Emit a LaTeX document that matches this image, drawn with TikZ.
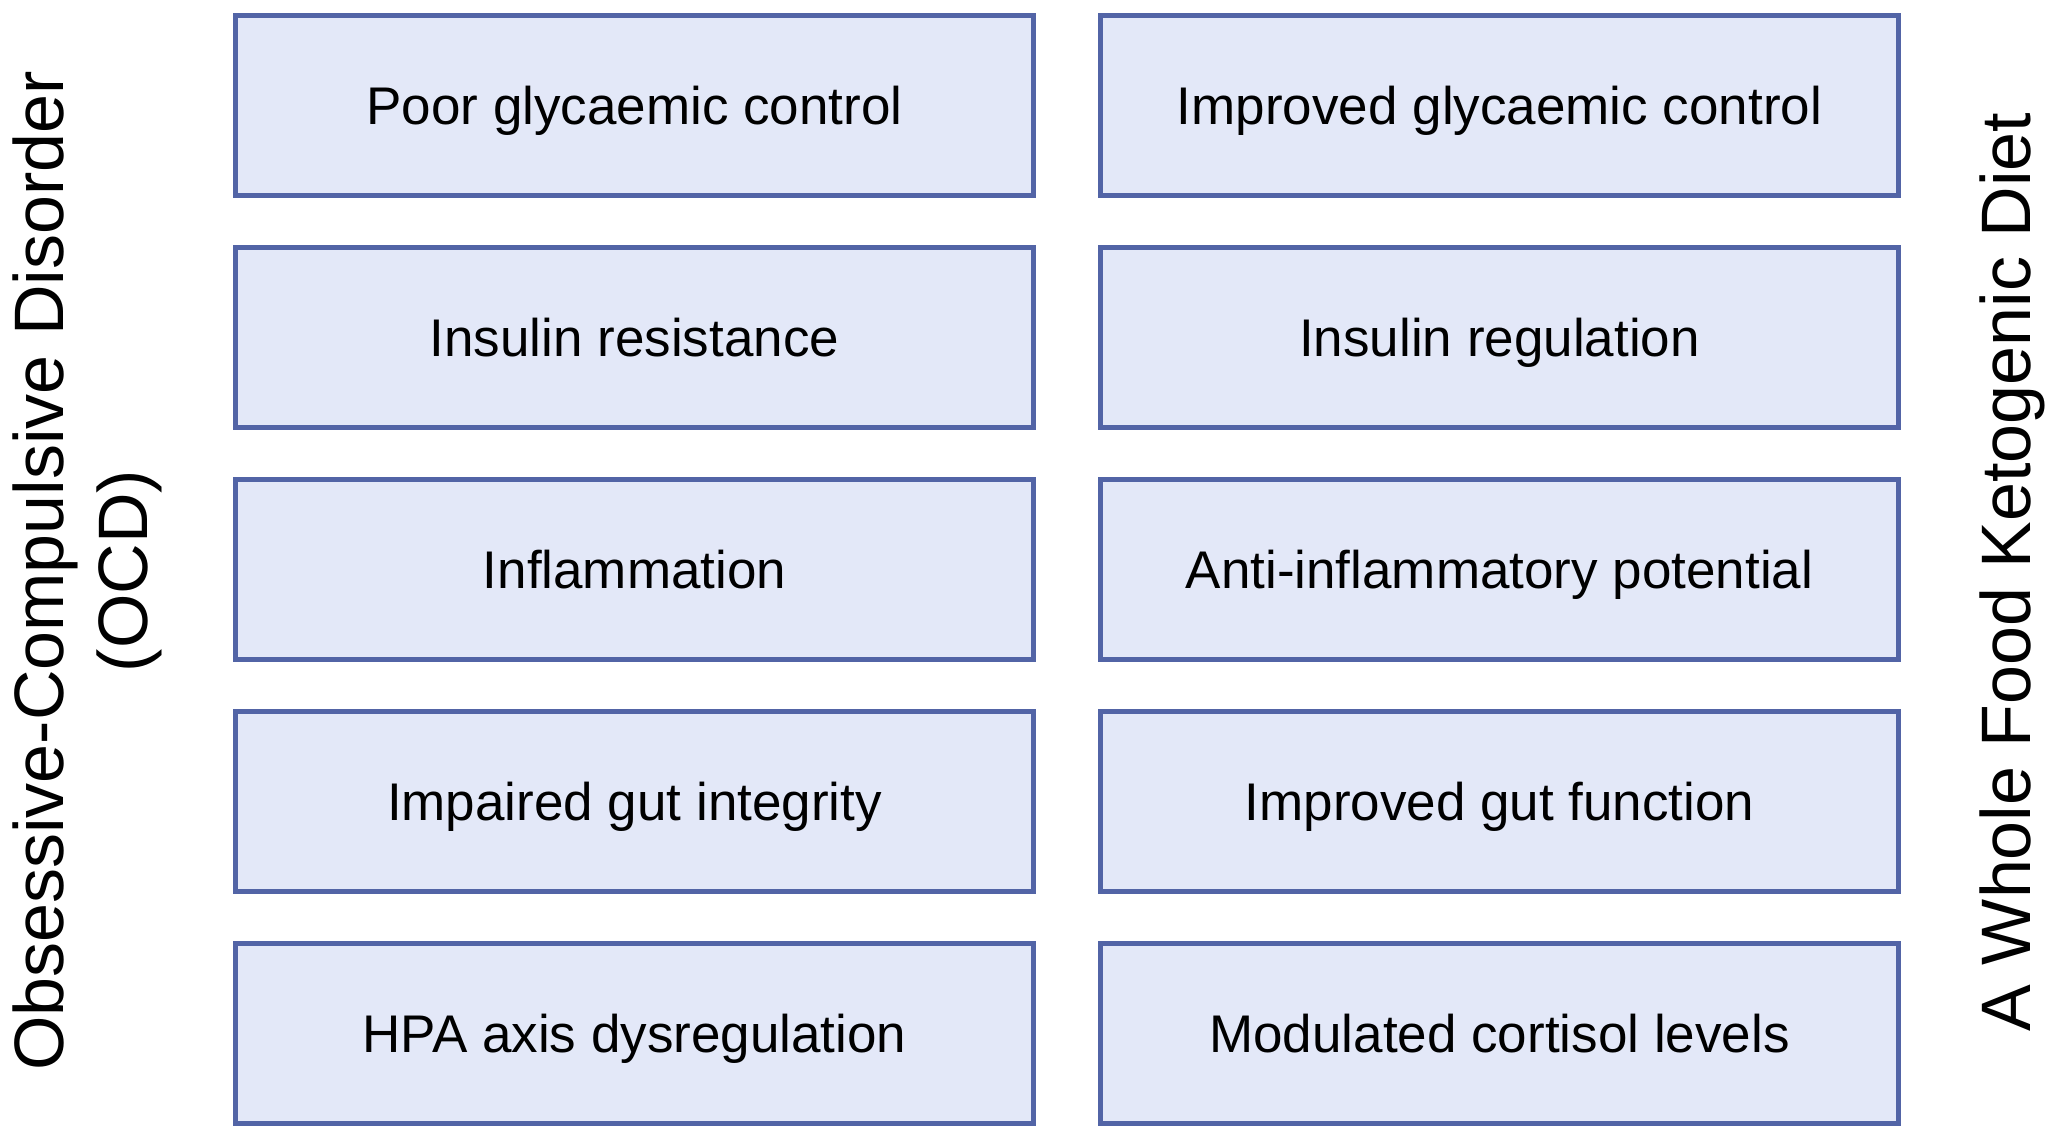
\documentclass[tikz,border=0pt]{standalone}
\usepackage{fontspec}
\setmainfont{Liberation Sans}
\usepackage{xcolor}
\usetikzlibrary{positioning}

\definecolor{boxfill}{HTML}{E3E8F8}
\definecolor{boxline}{HTML}{5264A6}

\tikzset{
	factor/.style={draw=boxline, fill=boxfill, line width=4.5pt,
		minimum width=798pt, minimum height=180pt, inner sep=0pt,
		text height=37.9pt, text depth=0pt,
		font=\fontsize{53}{58}\selectfont},
	sidelabel/.style={rotate=90, inner sep=0pt, align=center,
		font=\fontsize{70}{84}\selectfont}
}

\begin{document}
\begin{tikzpicture}[x=1pt, y=-1pt]
			\useasboundingbox (0,0) rectangle (2056,1134);

			% side titles
			\node[sidelabel, anchor=north] (ocd) at(13, 571){Obsessive-Compulsive Disorder\\(OCD)};
			\node[sidelabel, anchor=base] (kd) at(2030, 572){A Whole Food Ketogenic Diet};

			% OCD column
			\node[factor] (glyc) at(634.5, 105.5){Poor glycaemic control};
			\node[factor] (ins) at(634.5, 337.5){Insulin resistance};
			\node[factor] (infl) at(634.5, 569.5){Inflammation};
			\node[factor] (gut) at(634.5, 801.5){Impaired gut integrity};
			\node[factor] (hpa) at(634.5, 1033.5){HPA axis dysregulation};

			% diet column
			\node[factor] (kglyc) at(1499.5, 105.5){Improved glycaemic control};
			\node[factor] (kins) at(1499.5, 337.5){Insulin regulation};
			\node[factor] (kinfl) at(1499.5, 569.5){Anti-inflammatory potential};
			\node[factor] (kgut) at(1499.5, 801.5){Improved gut function};
			\node[factor] (khpa) at(1499.5, 1033.5){Modulated cortisol levels};

		\end{tikzpicture}
\end{document}
